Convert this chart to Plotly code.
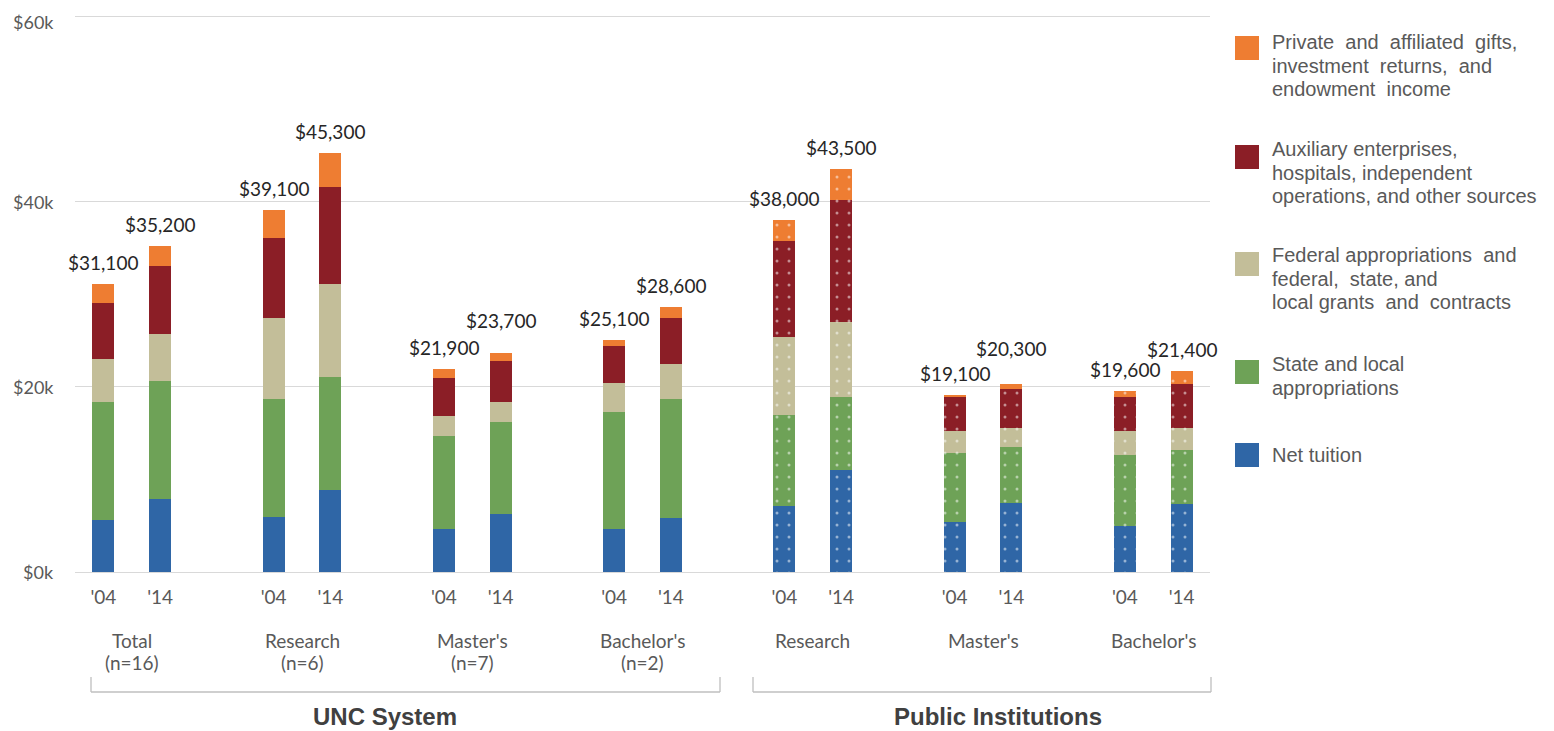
import plotly.graph_objects as go

# ---------------- data (thousands of dollars per FTE student) ----------------
groups = ["Total<br>(n=16)", "Research<br>(n=6)", "Master's<br>(n=7)", "Bachelor's<br>(n=2)",
          "Research", "Master's", "Bachelor's"]
years = ["'04", "'14"]
is_public = [False, False, False, False, True, True, True]

net_tuition = [5.6, 7.85, 5.95, 8.9, 4.6, 6.3, 4.6, 5.8, 7.15, 11.0, 5.45, 7.5, 4.95, 7.35]
state_local = [12.75, 12.75, 12.75, 12.2, 10.1, 9.95, 12.7, 12.85, 9.8, 7.9, 7.4, 6.05, 7.7, 5.8]
federal = [4.65, 5.15, 8.7, 10.0, 2.1, 2.1, 3.1, 3.8, 8.45, 8.1, 2.4, 2.05, 2.55, 2.4]
auxiliary = [6.05, 7.25, 8.7, 10.5, 4.1, 4.45, 4.0, 4.95, 10.35, 13.2, 3.6, 4.15, 3.65, 4.8]
private = [2.05, 2.2, 3.0, 3.7, 1.0, 0.9, 0.7, 1.2, 2.25, 3.3, 0.25, 0.55, 0.75, 1.4]

totals_text = ["$31,100", "$35,200", "$39,100", "$45,300", "$21,900", "$23,700", "$25,100",
               "$28,600", "$38,000", "$43,500", "$19,100", "$20,300", "$19,600", "$21,400"]

section_titles = ["UNC System", "Public Institutions"]

series_lines = [
    ["Net tuition"],
    ["State and local", "appropriations"],
    ["Federal appropriations  and", "federal,  state, and", "local grants  and  contracts"],
    ["Auxiliary enterprises,", "hospitals, independent", "operations, and other sources"],
    ["Private  and  affiliated  gifts,", "investment  returns,  and", "endowment  income"],
]
series_values = [net_tuition, state_local, federal, auxiliary, private]
colors = ["#2F66A6", "#6EA257", "#C3BE99", "#8B1E26", "#EE7D32"]

y_ticks = [0, 20, 40, 60]
y_ticktext = ["$0k", "$20k", "$40k", "$60k"]

# ---------------- layout helpers (screen px -> paper) ----------------
OFF = 8  # page body margin
W, H = 1554 - OFF, 731 - OFF
L, T = 75 - OFF, 15 - OFF
R = W - (1210 - OFF)
B = H - (572 - OFF)
PW, PH = W - L - R, H - T - B


def xp(sx):
    return (sx - OFF - L) / PW


def yp(sy):
    return (H - B - (sy - OFF)) / PH


xpos = []
xtext = []
pub_flags = []
for gi, g in enumerate(groups):
    for yi, yr in enumerate(years):
        xpos.append(3 * gi + yi)
        xtext.append(yr)
        pub_flags.append(is_public[gi])

pattern_shapes = ["." if p else "" for p in pub_flags]

fig = go.Figure()
for name_lines, vals, col in zip(series_lines, series_values, colors):
    nm = " ".join(" ".join(name_lines).split())
    fig.add_trace(go.Bar(
        x=xpos, y=vals, name=nm,
        width=0.39,
        marker=dict(color=col, line=dict(width=0),
                    pattern=dict(shape=pattern_shapes, fgcolor="white", size=12,
                                 solidity=0.05, fillmode="overlay")),
        showlegend=False,
        hovertemplate="%{y:.1f}k<extra>" + nm + "</extra>",
    ))

annotations = []
shapes = []

# y-axis tick labels (drawn as annotations so the top one stays inside the page)
for v, txt in zip(y_ticks, y_ticktext):
    top_label = v == max(y_ticks)
    annotations.append(dict(x=xp(56), y=v, xref="paper", yref="y", text=txt, showarrow=False,
                            xanchor="right", yanchor="top" if top_label else "middle",
                            yshift=7 if top_label else 0,
                            font=dict(family="Lato", size=18, color="#595959")))

# total labels above bars (two labels lifted to avoid their neighbours)
label_lift = {5: 11, 11: 14}
tops = [sum(v[i] for v in series_values) for i in range(len(xpos))]
for i, (x, top, txt) in enumerate(zip(xpos, tops, totals_text)):
    annotations.append(dict(x=x, y=top, xref="x", yref="y", text=txt, showarrow=False,
                            yanchor="bottom", yshift=8 + label_lift.get(i, 0),
                            font=dict(family="Lato", size=19, color="#262626")))

# group category labels
for gi, g in enumerate(groups):
    for k, line in enumerate(g.split("<br>")):
        annotations.append(dict(x=3 * gi + 0.5, y=yp(640 + 22 * k), xref="x", yref="paper",
                                text=line, showarrow=False, yanchor="middle", align="center",
                                font=dict(family="Lato", size=19, color="#595959")))

# brackets
bracket_spans = [(91, 720), (753, 1211)]
title_centers = [385, 998]
for (a, b), title, tc in zip(bracket_spans, section_titles, title_centers):
    for (x0, y0, x1, y1) in [(a, 677, a, 692), (a, 692, b, 692), (b, 677, b, 692)]:
        shapes.append(dict(type="line", xref="paper", yref="paper",
                           x0=xp(x0), x1=xp(x1), y0=yp(y0), y1=yp(y1),
                           line=dict(color="#BFBFBF", width=1.3)))
    annotations.append(dict(x=xp(tc), y=yp(716), xref="paper", yref="paper",
                            text="<b>" + title + "</b>",
                            showarrow=False, yanchor="middle", xanchor="center",
                            font=dict(family="Liberation Sans", size=24, color="#404040")))

# manual legend (top item = last series)
legend_first_line_y = [455, 364, 255, 149, 42]
legend_square_y = [455, 372, 264, 157, 48]
for lines, col, ly, sy in zip(series_lines, colors, legend_first_line_y, legend_square_y):
    shapes.append(dict(type="rect", xref="paper", yref="paper",
                       x0=xp(1235), x1=xp(1259), y0=yp(sy - 12), y1=yp(sy + 12),
                       fillcolor=col, line=dict(width=0)))
    for k, line in enumerate(lines):
        annotations.append(dict(x=xp(1270), y=yp(ly + 23.7 * k), xref="paper", yref="paper",
                                text=line, showarrow=False, xanchor="left", yanchor="middle",
                                font=dict(family="Liberation Sans", size=20, color="#595959")))

fig.update_layout(
    barmode="stack",
    width=W, height=H,
    margin=dict(l=L, r=R, t=T, b=B, autoexpand=False),
    plot_bgcolor="white", paper_bgcolor="white",
    annotations=annotations, shapes=shapes,
    showlegend=False,
    xaxis=dict(range=[-0.5, 19.5], tickvals=xpos, ticktext=xtext, showgrid=False,
               zeroline=False, showline=False, ticks="", ticklabelstandoff=12,
               automargin=False,
               tickfont=dict(family="Lato", size=19, color="#595959")),
    yaxis=dict(range=[0, 60.15], tickvals=y_ticks, showticklabels=False,
               showgrid=True, gridcolor="#D9D9D9", gridwidth=1.3, zeroline=True,
               zerolinecolor="#D9D9D9", zerolinewidth=1.3, showline=False, ticks="",
               automargin=False),
)

fig.write_html("out.html")
